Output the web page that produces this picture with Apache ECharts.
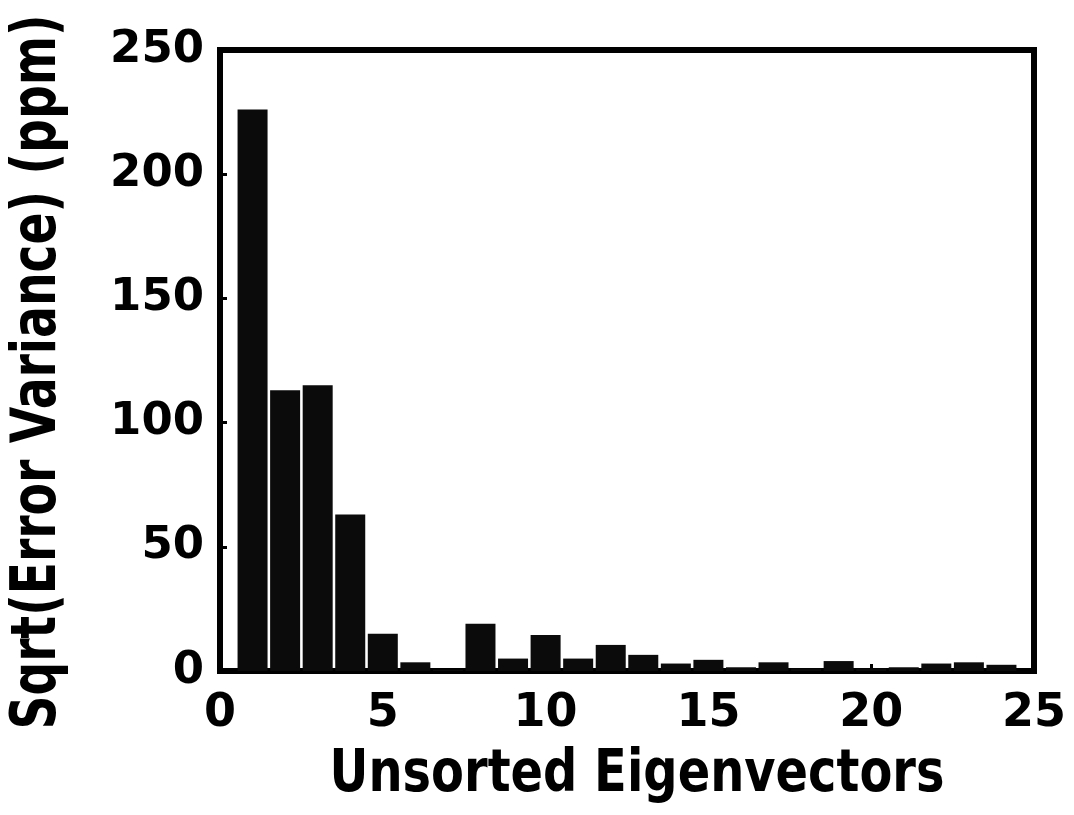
<!DOCTYPE html>
<html>
<head>
<meta charset="utf-8">
<script src="https://cdn.jsdelivr.net/npm/echarts@6/dist/echarts.min.js"></script>
<style>
  html, body { margin: 0; padding: 0; background: #fff; }
  #chart { width: 1074px; height: 815px; }
</style>
</head>
<body>
<div id="chart"></div>
<script>
// eigenvector index and sqrt(error variance) in ppm
const eigenvectors = [1, 2, 3, 4, 5, 6, 7, 8, 9, 10, 11, 12, 13, 14, 15, 16, 17, 18, 19, 20, 21, 22, 23, 24];
const errorValues = [226, 113, 115, 63, 15, 3.5, 0.5, 19, 5, 14.5, 5, 10.5, 6.5, 3, 4.5, 1.5, 3.5, 1, 4, 1, 1.5, 3, 3.5, 2.5];
const xTicks = [0, 5, 10, 15, 20, 25];
const yTicks = [0, 50, 100, 150, 200, 250];
const xTitle = 'Unsorted Eigenvectors';
const yTitle = 'Sqrt(Error Variance) (ppm)';

const FONT = '"DejaVu Sans", Verdana, sans-serif';

// measure title widths so they can be squeezed to the figure's proportions
function textWidth(text, size) {
  const ctx = document.createElement('canvas').getContext('2d');
  ctx.font = 'bold ' + size + 'px ' + FONT;
  return ctx.measureText(text).width;
}
const xTitleSize = 58, yTitleSize = 62;
const xScale = 615 / textWidth(xTitle, xTitleSize);
const yScale = 715 / textWidth(yTitle, yTitleSize);

const chart = echarts.init(document.getElementById('chart'));

const option = {
  backgroundColor: '#fff',
  animation: false,
  grid: {
    left: 220, right: 40, top: 50, bottom: 144,
    show: true, borderColor: '#000', borderWidth: 6
  },
  xAxis: {
    type: 'value',
    min: xTicks[0], max: xTicks[xTicks.length - 1], interval: 5,
    axisLine: { show: true, lineStyle: { color: '#000', width: 6 } },
    axisTick: { show: true, inside: true, length: 7, lineStyle: { color: '#000', width: 3 } },
    splitLine: { show: false },
    axisLabel: {
      color: '#000', fontFamily: FONT, fontWeight: 'bold', fontSize: 46, margin: 20
    }
  },
  yAxis: {
    type: 'value',
    min: yTicks[0], max: yTicks[yTicks.length - 1], interval: 50,
    axisLine: { show: true, lineStyle: { color: '#000', width: 6 } },
    axisTick: { show: true, inside: true, length: 7, lineStyle: { color: '#000', width: 3 } },
    splitLine: { show: false },
    axisLabel: {
      color: '#000', fontFamily: FONT, fontWeight: 'bold', fontSize: 45, margin: 16
    }
  },
  series: [{
    type: 'bar',
    data: eigenvectors.map((e, i) => [e, errorValues[i]]),
    barWidth: 30,
    itemStyle: { color: '#0b0b0b' }
  }],
  graphic: [
    {
      type: 'text',
      x: 637, y: 776,
      scaleX: xScale,
      style: {
        text: xTitle, fill: '#000',
        font: 'bold ' + xTitleSize + 'px ' + FONT,
        align: 'center', verticalAlign: 'middle',
        textAlign: 'center', textVerticalAlign: 'middle'
      }
    },
    {
      type: 'text',
      x: 39, y: 372,
      rotation: Math.PI / 2,
      scaleX: yScale,
      style: {
        text: yTitle, fill: '#000',
        font: 'bold ' + yTitleSize + 'px ' + FONT,
        align: 'center', verticalAlign: 'middle',
        textAlign: 'center', textVerticalAlign: 'middle'
      }
    }
  ]
};

chart.setOption(option);
</script>
</body>
</html>
